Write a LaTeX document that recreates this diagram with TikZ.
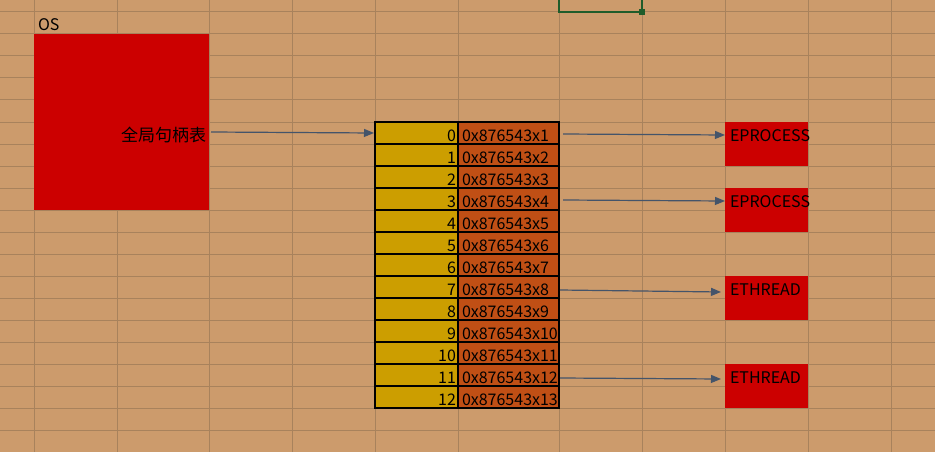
\documentclass[tikz,border=0pt]{standalone}
\usepackage{fontspec}
\setmainfont{Noto Sans CJK SC}
\usetikzlibrary{arrows.meta,calc}
\definecolor{bg}{HTML}{CC9B6C}
\definecolor{gridc}{HTML}{A8825C}
\definecolor{redbox}{HTML}{CC0000}
\definecolor{idxc}{HTML}{CC9E00}
\definecolor{addrc}{HTML}{C04F15}
\definecolor{arrowc}{HTML}{44546A}
\definecolor{selc}{HTML}{1F5C2A}
\begin{document}
\begin{tikzpicture}[x=1pt,y=-1pt,
 every node/.style={inner sep=0pt, outer sep=0pt},
 txt/.style={font=\fontsize{16}{16}\selectfont, text=black},
 gridline/.style={draw=gridc, line width=1pt},
 redblock/.style={fill=redbox, draw=none, rectangle, anchor=north west},
 idxcell/.style={fill=idxc, draw=black, line width=1.1pt, minimum width=83pt, minimum height=22pt, anchor=north west},
 addrcell/.style={fill=addrc, draw=black, line width=1.1pt, minimum width=101pt, minimum height=22pt, anchor=north west},
 link/.style={draw=arrowc, line width=1.2pt, -{Triangle[length=10pt,width=8pt]}},
]
\useasboundingbox (0,0) rectangle (935,452);
\fill[bg] (0,0) rectangle (935,452);
\foreach \x in {34,117,209,292,375,458,559,642,725,808,891} \draw[gridline] (\x,0) -- (\x,452);
\foreach \k in {0,...,19} \draw[gridline] (0,12+22*\k) -- (935,12+22*\k);
% selection box
\draw[selc, line width=2pt] (559,-5) -- (559,12) -- (642,12) -- (642,-5);
\fill[selc] (639,9) rectangle (645,15);
% OS block
\node[redblock, minimum width=175pt, minimum height=176pt] (os) at (34,34) {};
\node[txt, anchor=base west] (oslabel) at (38,31) {OS};
\node[txt, font=\fontsize{17}{17}\selectfont, anchor=base east] (table) at (206,141) {全局句柄表};
% handle table
\foreach \r in {0,...,12} {
 \node[idxcell] (idx\r) at (375,122+22*\r) {};
 \node[addrcell] (addr\r) at (458,122+22*\r) {};
 \node[txt, anchor=base east] at (456,141+22*\r) {\r};
 \pgfmathtruncatemacro\n{\r+1}
 \node[txt, anchor=base west] at (462,141+22*\r) {0x876543x\n};
}
% objects
\node[redblock, minimum width=83pt, minimum height=44pt] (ep1) at (725,122) {};
\node[txt, anchor=base west] (ep1t) at (730,141) {EPROCESS};
\node[redblock, minimum width=83pt, minimum height=44pt] (ep2) at (725,188) {};
\node[txt, anchor=base west] (ep2t) at (730,207) {EPROCESS};
\node[redblock, minimum width=83pt, minimum height=44pt] (th1) at (725,276) {};
\node[txt, anchor=base west] (th1t) at (730,295) {ETHREAD};
\node[redblock, minimum width=83pt, minimum height=44pt] (th2) at (725,364) {};
\node[txt, anchor=base west] (th2t) at (730,383) {ETHREAD};
% links
\draw[link] ($(table.base east)+(5,-9)$) -- ($(idx0.west)+(-1,0)$);
\draw[link] ($(addr0.east)+(4,1)$) -- ($(ep1.north west)+(0,13)$);
\draw[link] ($(addr3.east)+(4,1)$) -- ($(ep2.north west)+(0,13)$);
\draw[link] ($(addr7.east)+(1,3)$) -- ($(th1.north west)+(-4,16)$);
\draw[link] ($(addr11.east)+(1,3)$) -- ($(th2.north west)+(-4,15)$);
\end{tikzpicture}
\end{document}
